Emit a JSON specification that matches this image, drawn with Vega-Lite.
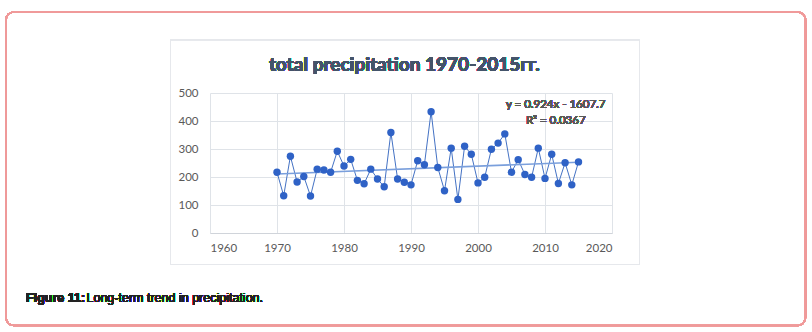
{
  "$schema": "https://vega.github.io/schema/vega-lite/v6.json",
  "autosize": {"type": "none"},
  "width": 402,
  "height": 140,
  "padding": {"left": 210, "top": 93, "right": 200, "bottom": 99},
  "background": "white",
  "config": {
    "view": {"stroke": null},
    "font": "Lato",
    "axis": {
      "labelFont": "Lato",
      "labelFontSize": 11.5,
      "labelColor": "#595959",
      "gridColor": "#dfe3e8",
      "gridWidth": 1,
      "ticks": false,
      "title": null,
      "labelOverlap": false,
      "grid": true
    },
    "axisX": {"tickCount": 20, "format": "d", "domain": true, "domainColor": "#d0d4da", "labelPadding": 9},
    "axisY": {"tickCount": 20, "domain": false, "labelPadding": 12}
  },
  "datasets": {
    "precip": [
      {"year": 1970, "precip": 217},
      {"year": 1971, "precip": 133},
      {"year": 1972, "precip": 274},
      {"year": 1973, "precip": 182},
      {"year": 1974, "precip": 202},
      {"year": 1975, "precip": 132},
      {"year": 1976, "precip": 228},
      {"year": 1977, "precip": 225},
      {"year": 1978, "precip": 217},
      {"year": 1979, "precip": 292},
      {"year": 1980, "precip": 239},
      {"year": 1981, "precip": 263},
      {"year": 1982, "precip": 188},
      {"year": 1983, "precip": 176},
      {"year": 1984, "precip": 228},
      {"year": 1985, "precip": 193},
      {"year": 1986, "precip": 165},
      {"year": 1987, "precip": 359},
      {"year": 1988, "precip": 193},
      {"year": 1989, "precip": 181},
      {"year": 1990, "precip": 172},
      {"year": 1991, "precip": 258},
      {"year": 1992, "precip": 244},
      {"year": 1993, "precip": 433},
      {"year": 1994, "precip": 234},
      {"year": 1995, "precip": 151},
      {"year": 1996, "precip": 303},
      {"year": 1997, "precip": 120},
      {"year": 1998, "precip": 310},
      {"year": 1999, "precip": 281},
      {"year": 2000, "precip": 179},
      {"year": 2001, "precip": 199},
      {"year": 2002, "precip": 299},
      {"year": 2003, "precip": 321},
      {"year": 2004, "precip": 354},
      {"year": 2005, "precip": 217},
      {"year": 2006, "precip": 262},
      {"year": 2007, "precip": 209},
      {"year": 2008, "precip": 199},
      {"year": 2009, "precip": 303},
      {"year": 2010, "precip": 195},
      {"year": 2011, "precip": 281},
      {"year": 2012, "precip": 177},
      {"year": 2013, "precip": 251},
      {"year": 2014, "precip": 172},
      {"year": 2015, "precip": 254}
    ]
  },
  "data": {"name": "precip"},
  "encoding": {
    "x": {
      "field": "year", "type": "quantitative",
      "scale": {"domain": [1960, 2020], "nice": false, "zero": false},
      "axis": {"values": [1960, 1970, 1980, 1990, 2000, 2010, 2020]}
    },
    "y": {
      "field": "precip", "type": "quantitative",
      "scale": {"domain": [0, 500], "nice": false},
      "axis": {"values": [0, 100, 200, 300, 400, 500]}
    }
  },
  "layer": [
    {
      "mark": {"type": "rect", "filled": false, "stroke": "#e6e8ec", "strokeWidth": 1, "clip": false},
      "encoding": {
        "x": {"datum": 1954.1, "type": "quantitative"},
        "x2": {"datum": 2024.1},
        "y": {"datum": 689.3, "type": "quantitative"},
        "y2": {"datum": -112.5}
      }
    },
    {
      "mark": {"type": "rect", "filled": false, "stroke": "#ef9a9a", "strokeWidth": 1.5, "cornerRadius": 8, "clip": false},
      "encoding": {
        "x": {"datum": 1929.55, "type": "quantitative"},
        "x2": {"datum": 2048.88},
        "y": {"datum": 789.3, "type": "quantitative"},
        "y2": {"datum": -330.4}
      }
    },
    {
      "mark": {"type": "line", "color": "#4472c4", "strokeWidth": 1}
    },
    {
      "transform": [{"regression": "precip", "on": "year", "extent": [1970, 2015]}],
      "mark": {"type": "line", "color": "#7a9fdc", "strokeWidth": 1.6}
    },
    {
      "mark": {"type": "point", "filled": true, "color": "#2f62c6", "size": 55, "opacity": 1}
    },
    {
      "mark": {"type": "text", "text": "total precipitation 1970-2015гг.", "font": "Lato", "fontWeight": "bold", "fontSize": 19, "color": "#44546a", "align": "center", "baseline": "middle", "clip": false},
      "encoding": {
        "x": {"datum": 1989.0, "type": "quantitative"},
        "y": {"datum": 600, "type": "quantitative"}
      }
    },
    {
      "mark": {"type": "text", "text": "y = 0.924x - 1607.7", "font": "Lato", "fontSize": 11.5, "color": "#595959", "align": "center", "baseline": "middle"},
      "encoding": {
        "x": {"datum": 2011.6, "type": "quantitative"},
        "y": {"datum": 458, "type": "quantitative"}
      }
    },
    {
      "mark": {"type": "text", "text": "R² = 0.0367", "font": "Lato", "fontSize": 11.5, "color": "#595959", "align": "center", "baseline": "middle"},
      "encoding": {
        "x": {"datum": 2011.6, "type": "quantitative"},
        "y": {"datum": 400, "type": "quantitative"}
      }
    },
    {
      "mark": {"type": "text", "text": "Figure 11:", "font": "Liberation Sans", "fontWeight": "bold", "fontSize": 12.5, "color": "#222222", "align": "left", "baseline": "alphabetic", "clip": false},
      "encoding": {
        "x": {"datum": 1932.54, "type": "quantitative"},
        "y": {"datum": -248.2, "type": "quantitative"}
      }
    },
    {
      "mark": {"type": "text", "text": "Long-term trend in precipitation.", "font": "Liberation Sans", "fontSize": 12.5, "color": "#222222", "align": "left", "baseline": "alphabetic", "clip": false},
      "encoding": {
        "x": {"datum": 1941.57, "type": "quantitative"},
        "y": {"datum": -248.2, "type": "quantitative"}
      }
    }
  ]
}
